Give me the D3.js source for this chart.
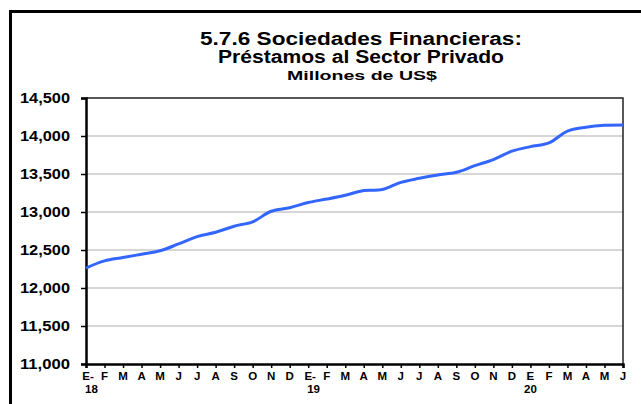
<!DOCTYPE html>
<html>
<head>
<meta charset="utf-8">
<script src="https://cdn.jsdelivr.net/npm/d3@7"></script>
<style>
  body { margin: 0; background: #fff; }
  svg { display: block; font-family: "Liberation Sans", Arial, sans-serif; font-weight: bold; }
</style>
</head>
<body>
<div id="chart"></div>
<script>
const monthLabels = ['E-', 'F', 'M', 'A', 'M', 'J', 'J', 'A', 'S', 'O', 'N', 'D',
  'E-', 'F', 'M', 'A', 'M', 'J', 'J', 'A', 'S', 'O', 'N', 'D',
  'E', 'F', 'M', 'A', 'M', 'J'];
const yearLabels = ['18', '', '', '', '', '', '', '', '', '', '', '',
  '19', '', '', '', '', '', '', '', '', '', '', '',
  '20', '', '', '', '', ''];
const prestamos = [12263, 12357, 12400, 12445, 12490, 12580, 12676, 12733, 12813, 12870, 13010, 13057,
  13125, 13170, 13220, 13283, 13295, 13390, 13443, 13487, 13522, 13610, 13690, 13800,
  13860, 13910, 14065, 14115, 14140, 14145];
const yTicks = [11000, 11500, 12000, 12500, 13000, 13500, 14000, 14500];
const titleLines = ['5.7.6 Sociedades Financieras:', 'Préstamos al Sector Privado'];
const subtitle = 'Millones de US$';

const width = 641, height = 404;
const plot = { left: 86, right: 623, top: 98, bottom: 364 };

const svg = d3.select('#chart').append('svg')
  .attr('width', width)
  .attr('height', height);

// outer frame (top + left only, rest is cropped)
svg.append('path')
  .attr('d', `M10.5,${height} V11.5 H${width}`)
  .attr('fill', 'none')
  .attr('stroke', '#000')
  .attr('stroke-width', 3);

// titles, stretched a bit like the Excel export
const titleWidths = [322, 286];
svg.selectAll('.title')
  .data(titleLines)
  .join('text')
  .attr('class', 'title')
  .attr('x', 361)
  .attr('y', (d, i) => 45 + i * 18)
  .attr('text-anchor', 'middle')
  .attr('font-size', 17.5)
  .attr('textLength', (d, i) => titleWidths[i])
  .attr('lengthAdjust', 'spacingAndGlyphs')
  .text((d) => d);

svg.append('text')
  .attr('x', 362)
  .attr('y', 80)
  .attr('text-anchor', 'middle')
  .attr('font-size', 13)
  .attr('textLength', 150)
  .attr('lengthAdjust', 'spacingAndGlyphs')
  .text(subtitle);

const x = d3.scalePoint()
  .domain(d3.range(prestamos.length))
  .range([plot.left, plot.right]);

const y = d3.scaleLinear()
  .domain([11000, 14500])
  .range([plot.bottom, plot.top]);

// gridlines
svg.append('g')
  .selectAll('line')
  .data(yTicks.slice(1, -1))
  .join('line')
  .attr('x1', plot.left)
  .attr('x2', plot.right)
  .attr('y1', (d) => y(d))
  .attr('y2', (d) => y(d))
  .attr('stroke', '#c8c8c8')
  .attr('stroke-width', 1.5);

// plot border top/right
svg.append('path')
  .attr('d', `M${plot.left},${plot.top} H${plot.right} V${plot.bottom}`)
  .attr('fill', 'none')
  .attr('stroke', '#222')
  .attr('stroke-width', 1.5);

// y axis
const yAxis = svg.append('g')
  .attr('transform', `translate(${plot.left},0)`)
  .call(d3.axisLeft(y).tickValues(yTicks).tickFormat(d3.format(',')).tickSize(5).tickPadding(11));
yAxis.select('.domain').attr('stroke-width', 2.5);
yAxis.selectAll('.tick line').attr('stroke-width', 1.5);
yAxis.selectAll('text')
  .attr('font-size', 15)
  .attr('font-family', '"Liberation Sans", Arial, sans-serif')
  .attr('font-weight', 'bold')
  .attr('textLength', 50)
  .attr('lengthAdjust', 'spacingAndGlyphs')
  .attr('fill', '#000');

// x axis
const xAxis = svg.append('g')
  .attr('transform', `translate(0,${plot.bottom})`)
  .call(d3.axisBottom(x).tickSize(4).tickFormat(() => ''));
xAxis.select('.domain').attr('stroke-width', 2.5);
xAxis.selectAll('.tick line').attr('stroke-width', 1.5);

svg.append('g')
  .selectAll('text')
  .data(monthLabels)
  .join('text')
  .attr('x', (d, i) => x(i) + (d.endsWith('-') ? 2 : 0))
  .attr('y', 380)
  .attr('text-anchor', 'middle')
  .attr('font-size', 11.5)
  .text((d) => d);

svg.append('g')
  .selectAll('text')
  .data(yearLabels)
  .join('text')
  .attr('x', (d, i) => x(i))
  .attr('y', 393)
  .attr('text-anchor', (d, i) => (i === 24 ? 'middle' : 'start'))
  .attr('dx', (d, i) => (i === 24 ? 0 : -1))
  .attr('font-size', 11.5)
  .text((d) => d);

// series
const line = d3.line()
  .x((d, i) => x(i))
  .y((d) => y(d))
  .curve(d3.curveCatmullRom.alpha(0.5));

svg.append('path')
  .datum(prestamos)
  .attr('fill', 'none')
  .attr('stroke', '#3366ff')
  .attr('stroke-width', 3)
  .attr('stroke-linejoin', 'round')
  .attr('d', line);
</script>
</body>
</html>
